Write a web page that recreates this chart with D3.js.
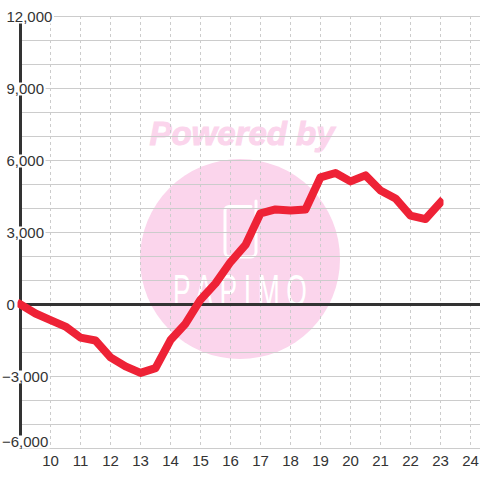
<!DOCTYPE html>
<html><head><meta charset="utf-8">
<style>html,body{margin:0;padding:0;background:#fff}svg{display:block}text{font-family:"Liberation Sans",Arial,sans-serif}</style>
<script src="https://cdn.jsdelivr.net/npm/d3@7/dist/d3.min.js"></script>
</head><body><svg id="c" width="480" height="480"></svg>
<script>
const hours = [9,9.5,10,10.5,11,11.5,12,12.5,13,13.5,14,14.5,15,15.5,16,16.5,17,17.5,18,18.5,19,19.5,20,20.5,21,21.5,22,22.5,23];
const values = [0,-375,-650,-920,-1380,-1500,-2200,-2580,-2850,-2650,-1480,-800,200,880,1770,2480,3800,3960,3920,3960,5300,5480,5130,5380,4750,4420,3700,3560,4250];
const xTicks = [10,11,12,13,14,15,16,17,18,19,20,21,22,23,24];
const yLabels = [12000,9000,6000,3000,0,-3000,-6000];
const yGrid = [12000,11000,10000,9000,8000,7000,6000,5000,4000,3000,2000,1000,-1000,-2000,-3000,-4000,-5000,-6000];
const svg = d3.select("#c");
const x = d3.scaleLinear().domain([9,24]).range([20.5,470.5]);
const y = d3.scaleLinear().domain([-6000,12000]).range([448.5,16.5]);
const fmt = d3.format(",");

// watermark
svg.append("circle").attr("cx",240).attr("cy",259).attr("r",100).attr("fill","#fbd5ec");
svg.append("text").attr("x",242).attr("y",145).attr("text-anchor","middle")
  .attr("font-size",33).attr("font-weight","bold").attr("font-style","italic")
  .attr("fill","#fbd5ec").attr("stroke","#fbd5ec").attr("stroke-width",1).text("Powered by");
svg.append("path").attr("d","M251 206.5H229a4 4 0 0 0-4 4V252a5 5 0 0 0 5 5H251a5 5 0 0 0 5-5V201")
  .attr("fill","none").attr("stroke","#fff").attr("stroke-width",3).attr("stroke-linecap","round");
svg.append("text").attr("transform","translate(240,306) scale(0.6,1)").attr("text-anchor","middle")
  .attr("font-size",44).attr("textLength",223).attr("lengthAdjust","spacing")
  .attr("fill","#fff").text("PAPIMO");

// grid
svg.append("g").selectAll("line").data(xTicks).join("line")
  .attr("x1",d=>x(d)).attr("x2",d=>x(d)).attr("y1",16).attr("y2",448)
  .attr("stroke","#ccc").attr("stroke-dasharray","3,3");
svg.append("g").selectAll("line").data(yGrid).join("line")
  .attr("x1",20).attr("x2",480).attr("y1",d=>y(d)).attr("y2",d=>y(d))
  .attr("stroke","#ccc");

// axes
svg.append("line").attr("x1",20.5).attr("x2",20.5).attr("y1",y(12000)).attr("y2",y(-6000)).attr("stroke","#333").attr("stroke-width",3);
svg.append("line").attr("x1",20).attr("x2",480).attr("y1",y(0)).attr("y2",y(0)).attr("stroke","#333").attr("stroke-width",3);

// y labels
const gy = svg.append("g");
yLabels.forEach(v=>{
  const cy = (v===-6000 ? y(v)-7 : y(v)) + 0.5;
  const t = gy.append("text").attr("x",v<0?2:6.5).attr("y",cy+5).attr("font-size",15).attr("fill","#333").text(fmt(v));
  const b = t.node().getBBox();
  gy.insert("rect","text").attr("x",0).attr("y",cy-6.5).attr("width",b.x+b.width+1.5).attr("height",13).attr("fill","#fff");
});
// x labels
svg.append("g").selectAll("text").data(xTicks).join("text")
  .attr("x",d=>x(d)).attr("y",466).attr("text-anchor","middle").attr("font-size",15).attr("fill","#333").text(d=>d);

// line
svg.append("clipPath").attr("id","cp").append("rect").attr("x",x(9)-3).attr("y",0).attr("width",x(23)-x(9)+6).attr("height",480);
svg.append("path").datum(hours.map((h,i)=>[h,values[i]]))
  .attr("clip-path","url(#cp)")
  .attr("d",d3.line().x(d=>x(d[0])).y(d=>y(d[1])))
  .attr("fill","none").attr("stroke","#ee2236").attr("stroke-width",8).attr("stroke-linejoin","round").attr("stroke-linecap","square");
</script></body></html>
